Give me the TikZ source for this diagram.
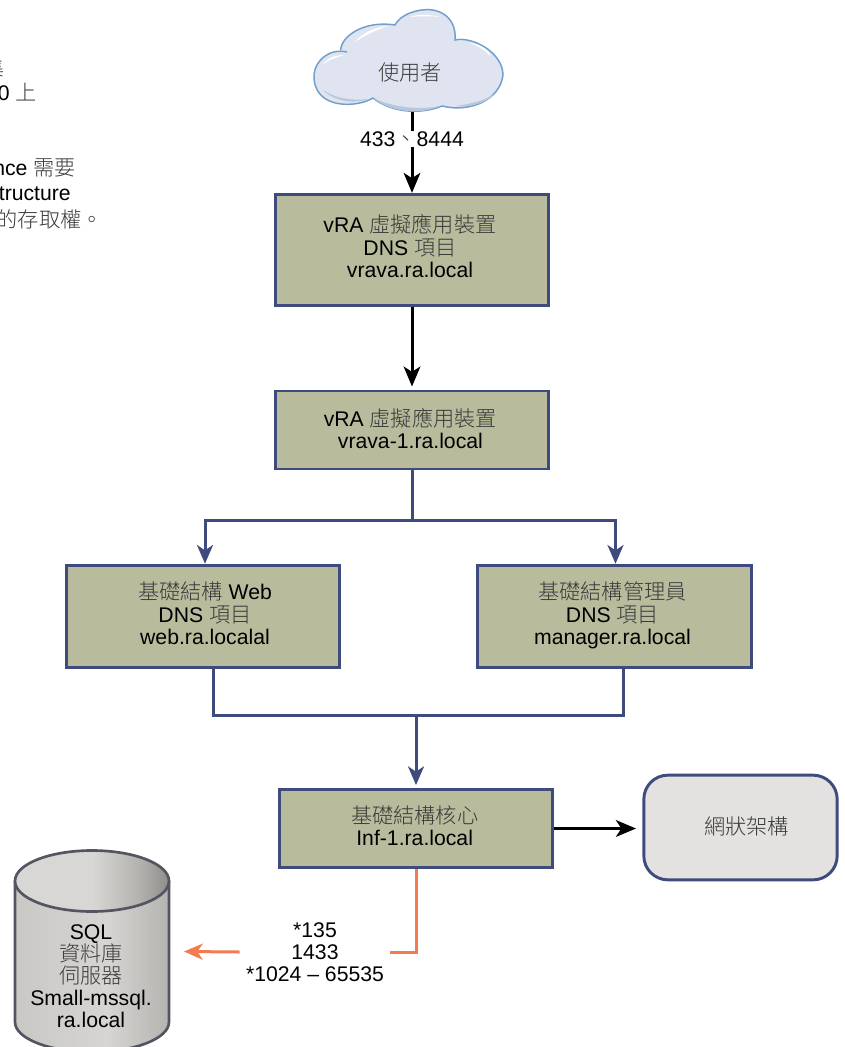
\documentclass[tikz,border=0pt]{standalone}
\usepackage{fontspec}
\setmainfont{Liberation Sans}
\newfontfamily\cj[UprightFont={* Light},BoldFont={* Light}]{Noto Sans CJK TC}
\usetikzlibrary{arrows.meta,calc}
\definecolor{navy}{HTML}{3F4B7C}
\definecolor{olive}{HTML}{B8BC9C}
\definecolor{netgray}{HTML}{E3E2E0}
\definecolor{orangeline}{HTML}{F47B4F}
\definecolor{cloudfill}{HTML}{DFE4F0}
\definecolor{cloudline}{HTML}{6F9FCF}
\definecolor{cloudshade}{HTML}{BAC6DA}
\definecolor{cjgray}{HTML}{3A3A3A}
\definecolor{cylA}{HTML}{C9C8C5}
\definecolor{cylB}{HTML}{D6D5D3}
\definecolor{cylC}{HTML}{B4B3AF}
\definecolor{cylD}{HTML}{72716C}
\definecolor{cylE}{HTML}{D8D7D5}
\definecolor{cylF}{HTML}{8E8D89}
\definecolor{cyledge}{HTML}{555562}
\newcommand{\zh}[1]{{\cj\color{cjgray}#1}}
\newcommand{\lift}[1]{\rule[-#1]{0pt}{1pt}}
\newcommand{\drop}[1]{\rule{0pt}{#1}}
\newcommand{\nudge}[2]{\hspace*{#1}\begin{tabular}{@{}c@{}}#2\end{tabular}\hspace*{-#1}}
\pgfdeclarehorizontalshading{cylbody}{100bp}{
  color(0bp)=(cylA); color(25bp)=(cylA); color(55bp)=(cylB); color(75bp)=(cylC); color(100bp)=(cylD)}
\pgfdeclarehorizontalshading{cyltop}{100bp}{
  color(0bp)=(cylE); color(25bp)=(cylE); color(50bp)=(cylE); color(65bp)=(cylC); color(75bp)=(cylF); color(100bp)=(cylF)}
\tikzset{
  x=0.75pt,y=-0.75pt,
  txt/.style={font=\fontsize{15.9pt}{16.5pt}\selectfont,align=center,inner sep=0pt,text=black},
  olivebox/.style={txt,draw=navy,fill=olive,line width=2.2pt,minimum width=205pt,inner sep=0pt},
  netbox/.style={txt,draw=navy,fill=netgray,line width=2.2pt,rounded corners=18pt,minimum width=145pt,minimum height=78.5pt},
  blackline/.style={draw=black,line width=2.25pt},
  navyline/.style={draw=navy,line width=2.25pt},
  orangelink/.style={draw=orangeline,line width=2.25pt},
  tipb/.style={-{Stealth[length=15pt,width=12.5pt,inset=4pt]}},
  tipn/.style={-{Stealth[length=14pt,width=12pt,inset=4pt]}},
  note/.style={txt,anchor=east,align=right},
}
\begin{document}
\begin{tikzpicture}
\path[use as bounding box] (0,0) rectangle (844,1047);
\clip (0,0) rectangle (844,1047);
\fill[white] (0,0) rectangle (844,1047);

% left notes (cut by the page edge)
\node[note] (n1) at (5,68) {\zh{集}};
\node[note] (n2) at (37,92) {0 \zh{上}};
\node[note] (n3) at (76,168) {nce \zh{需要}};
\node[note] (n4) at (71,194) {tructure};
\node[note] (n5) at (103,219) {\zh{的存取權。}};

% cloud
\path[fill=cloudfill,draw=cloudline,line width=1.1pt]
  (340.7,50) .. controls (341,37) and (363,20) .. (395,25)
  .. controls (400,15) and (417,8) .. (433,10)
  .. controls (453,14) and (456,30) .. (455,40)
  .. controls (473,36) and (503,53) .. (503,75)
  .. controls (500,100) and (470,113) .. (442,106)
  .. controls (423,114) and (393,114) .. (373,98)
  .. controls (357,108) and (313,110) .. (314,75)
  .. controls (315,60) and (330,48) .. (347,52);
\fill[cloudshade] (373,98) .. controls (393,114) and (423,114) .. (440,106) .. controls (420,110) and (395,108) .. (373,98);
\fill[cloudshade] (323,90) .. controls (335,102) and (355,104) .. (368,99) .. controls (350,101) and (335,98) .. (323,90);
\fill[cloudshade] (456,106) .. controls (475,108) and (490,100) .. (497,92) .. controls (488,100) and (470,104) .. (456,106);
\fill[white] (323,64) .. controls (328,58) and (335,55) .. (345,55) .. controls (336,57) and (329,60) .. (323,64);
\fill[white] (355,42) .. controls (362,33) and (375,27) .. (388,26) .. controls (376,30) and (365,35) .. (355,42);
\fill[white] (410,17) .. controls (418,14) and (428,14) .. (440,17) .. controls (430,16) and (420,16) .. (410,17);
\fill[white] (470,43) .. controls (480,44) and (490,50) .. (490,56) .. controls (485,50) and (478,46) .. (470,43);
\node[txt,minimum width=180pt,minimum height=60pt,anchor=center] (user) at (412,72) {\hspace{-3pt}\zh{使用者}};

% boxes
\node[olivebox,minimum height=83.5pt] (vra) at (412,250) {\nudge{-1.5pt}{vRA \zh{虛擬應用裝置}\\DNS \zh{項目}\\vrava.ra.local\lift{6pt}}};
\node[olivebox,minimum height=58.5pt] (vrb) at (412,430) {\nudge{-1.2pt}{\drop{16pt}vRA \zh{虛擬應用裝置}\\vrava-1.ra.local}};
\node[olivebox,minimum height=77pt] (web) at (203,616.5) {\nudge{1.5pt}{\drop{13pt}\zh{基礎結構} Web\\DNS \zh{項目}\\web.ra.localal}};
\node[olivebox,minimum height=77pt] (mgr) at (614.5,616.5) {\nudge{-1.5pt}{\drop{13pt}\zh{基礎結構管理員}\\DNS \zh{項目}\\manager.ra.local}};
\node[olivebox,minimum height=58.5pt] (core) at (416,828.5) {\nudge{-1pt}{\drop{14pt}\zh{基礎結構核心}\\Inf-1.ra.local}};
\node[netbox] (net) at (740.5,827.5) {\nudge{4.5pt}{\drop{16pt}\zh{網狀架構}}};

% database
\shade[shading=cylbody,draw=none]
  (15,881) -- (15,1022) arc[start angle=180,end angle=0,x radius=77,y radius=30]
  -- (169,881) -- cycle;
\draw[draw=cyledge,line width=2pt]
  (15,881) -- (15,1022) arc[start angle=180,end angle=0,x radius=77,y radius=30] -- (169,881);
\shade[shading=cyltop,draw=none] (92,881) ellipse[x radius=77,y radius=30.5];
\draw[draw=cyledge,line width=2pt] (92,881) ellipse[x radius=77,y radius=30.5];
\node[txt,minimum width=115pt] (db) at (91,976) {SQL\\\zh{資料庫}\\\zh{伺服器}\\Small-mssql.\\ra.local};

% labels on the links
\node[txt] (ports1) at (412,139) {433\zh{、}8444};
\node[txt,minimum width=112.5pt] (ports2) at (315,952) {*135\\1433\\*1024 – 65535};

% helper points
\coordinate (fork) at ($(vrb.south)+(0,50)$);
\coordinate (webin) at ($(web.north)+(2,0)$);
\coordinate (mgrin) at ($(mgr.north)+(1,0)$);
\coordinate (webout) at ($(web.south)+(10,0)$);
\coordinate (mgrout) at ($(mgr.south)+(9,0)$);
\coordinate (merge) at (416,715);
\coordinate (dbport) at (184,951.5);
\coordinate (netport) at (636,828.5);

% connectors
\draw[blackline] (user.south) -- (ports1.north);
\draw[blackline,tipb] (ports1.south) -- (vra.north);
\draw[blackline,tipb] (vra.south) -- ($(vrb.north)+(0,-3)$);
\draw[navyline] (vrb.south) -- (fork);
\draw[navyline,tipn] (fork) -| (webin);
\draw[navyline,tipn] (fork) -| (mgrin);
\draw[navyline] (webout) |- (merge);
\draw[navyline] (mgrout) |- (merge);
\draw[navyline,tipn] (merge) -- ($(core.north)+(0,-3)$);
\draw[blackline,tipb] (core.east) -- (netport);
\draw[orangelink] (core.south) |- (ports2.east);
\draw[orangelink,tipn] (ports2.west) -- (dbport);
\end{tikzpicture}
\end{document}
